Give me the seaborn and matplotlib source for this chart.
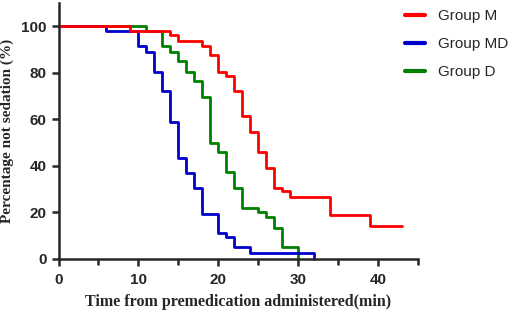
import numpy as np
import pandas as pd
import matplotlib
matplotlib.use('Agg')
import matplotlib.pyplot as plt
import seaborn as sns

# Kaplan-Meier style data
time_m = [0, 9, 14, 15, 18, 19, 20, 21, 22, 23, 24, 25, 26, 27, 28, 29, 34, 39, 43]
surv_m = [100, 98, 96, 93.5, 91.5, 87.5, 80.5, 78.5, 72, 61.5, 54.5, 46, 39, 30.5, 29, 26.5, 19, 14, 14]

time_md = [0, 6, 10, 11, 12, 13, 14, 15, 16, 17, 18, 20, 21, 22, 24, 32]
surv_md = [100, 98, 91.5, 89, 80.5, 72, 59, 43.5, 37, 30.5, 19.5, 11, 9.5, 5, 2.5, 0]

time_d = [0, 11, 13, 14, 15, 16, 17, 18, 19, 20, 21, 22, 23, 25, 26, 27, 28, 30]
surv_d = [100, 98, 91.5, 89, 85, 80.5, 76.5, 69.5, 50, 46, 37.5, 30.5, 22, 20, 18, 13.5, 5, 0]

groups = ['Group M', 'Group MD', 'Group D']
colors = {'Group M': '#ff0000', 'Group MD': '#0000cc', 'Group D': '#008000'}

df = pd.concat([
    pd.DataFrame({'time': time_m, 'surv': surv_m, 'group': 'Group M'}),
    pd.DataFrame({'time': time_md, 'surv': surv_md, 'group': 'Group MD'}),
    pd.DataFrame({'time': time_d, 'surv': surv_d, 'group': 'Group D'}),
])

sns.set_style('ticks')
fig = plt.figure(figsize=(5.12, 3.15), dpi=100)
ax = fig.add_axes([0.1143, 0.178, 0.702, 0.813])

# draw order: D, MD, then M on top
sns.lineplot(data=df, x='time', y='surv', hue='group',
             hue_order=['Group D', 'Group MD', 'Group M'], palette=colors,
             drawstyle='steps-post', linewidth=2.0, ax=ax, sort=False,
             estimator=None, legend=False)
for ln in ax.lines:
    ln.set_clip_on(False)

ax.set_xlim(0, 45)
ax.set_ylim(0, 110)
ax.set_xticks([0, 10, 20, 30, 40])
ax.set_xticks([5, 15, 25, 35, 45], minor=True)
ax.set_yticks([0, 20, 40, 60, 80, 100])
sns.despine(ax=ax)
for s in ['left', 'bottom']:
    ax.spines[s].set_linewidth(1.8)
ax.tick_params(axis='both', which='major', length=5, width=1.8)
ax.tick_params(axis='x', which='major', pad=5)
ax.tick_params(axis='x', which='minor', length=4, width=1.8)
for lab in ax.get_xticklabels() + ax.get_yticklabels():
    lab.set_fontfamily('Liberation Sans')
    lab.set_fontweight('bold')
    lab.set_fontsize(11)

ax.set_xlabel('Time from premedication administered(min)', fontfamily='Liberation Serif',
              fontweight='bold', fontsize=11.5, labelpad=5)
ax.set_ylabel('Percentage not sedation (%)', fontfamily='Liberation Serif',
              fontweight='bold', fontsize=11, labelpad=5)

handles = [plt.Line2D([], [], color=colors[g], linewidth=3) for g in groups]
leg = fig.legend(handles, groups, loc='upper left', bbox_to_anchor=(0.765, 1.015),
                 frameon=False, prop={'family': 'Liberation Sans', 'size': 11},
                 handlelength=1.3, handletextpad=0.8, labelspacing=0.92)

fig.savefig('out.png', dpi=100)
